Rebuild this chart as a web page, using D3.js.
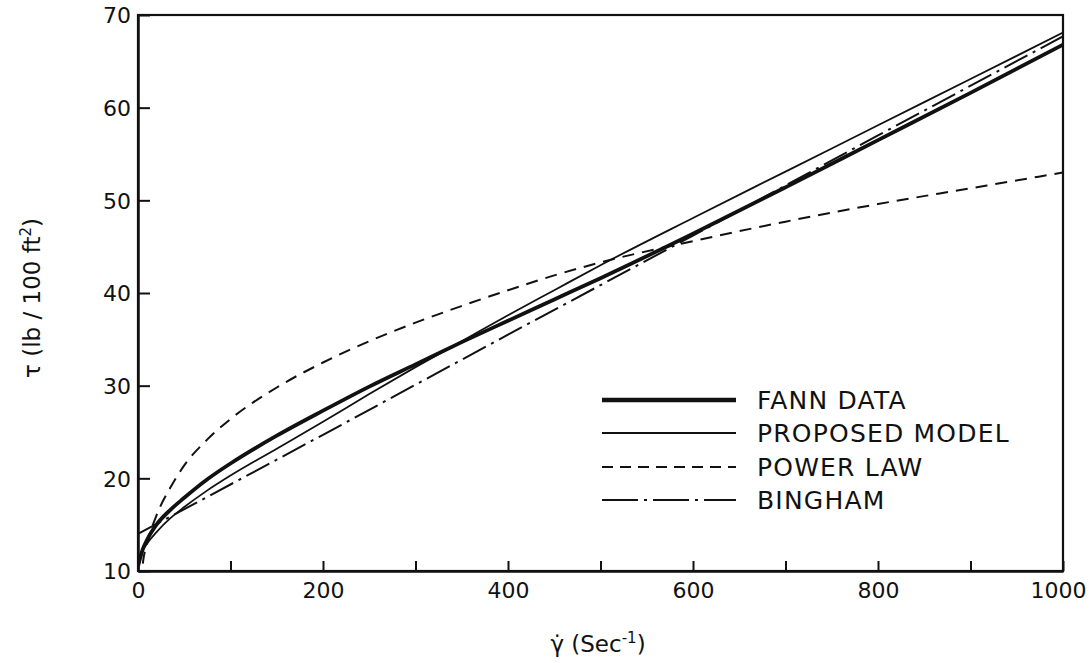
<!DOCTYPE html>
<html>
<head>
<meta charset="utf-8">
<script src="https://cdn.jsdelivr.net/npm/d3@7"></script>
<style>
  html, body { margin: 0; padding: 0; background: #fff; }
  svg { display: block; }
  text { font-family: "DejaVu Sans", sans-serif; fill: #111; }
</style>
</head>
<body>
<svg id="chart" width="1089" height="663"></svg>
<script>
// ---- data ----
const shearRate = [0, 5, 10, 20, 35, 50, 75, 100, 150, 200, 250, 300, 350, 400, 450, 500, 600, 700, 800, 900, 1000];
const fannData =      [10.5, 12.3, 13.4, 15.0, 16.6, 17.9, 19.9, 21.6, 24.6, 27.3, 29.9, 32.3, 34.7, 37.0, 39.3, 41.6, 46.4, 51.4, 56.5, 61.6, 66.8];
const proposedModel = [11.2, 12.2, 13.0, 14.2, 15.7, 16.9, 18.7, 20.3, 23.2, 26.1, 29.1, 32.0, 34.8, 37.6, 40.3, 43.0, 48.1, 53.1, 58.1, 63.1, 68.1];
const powerLaw =      [0.0, 10.6, 13.0, 16.0, 19.0, 21.4, 24.2, 26.4, 29.8, 32.5, 34.8, 36.8, 38.6, 40.3, 41.9, 43.3, 45.6, 47.7, 49.6, 51.3, 53.0];
const binghamRate = [0, 200, 400, 600, 800, 1000];
const bingham =     [14.0, 24.7, 35.5, 46.2, 57.0, 67.7];

const xTickValues = [0, 100, 200, 300, 400, 500, 600, 700, 800, 900, 1000];
const xTickLabels = [0, 200, 400, 600, 800, 1000];
const yTickValues = [10, 20, 30, 40, 50, 60, 70];

const legendLabels = ["FANN DATA", "PROPOSED MODEL", "POWER LAW", "BINGHAM"];

// ---- drawing ----
(function () {
const svg = d3.select("#chart");
const mLeft = 138, mRight = 1063, mTop = 15, mBottom = 571;

const x = d3.scaleLinear().domain([0, 1000]).range([mLeft, mRight]);
const y = d3.scaleLinear().domain([10, 70]).range([mBottom, mTop]);

svg.append("defs").append("clipPath").attr("id", "plotclip")
  .append("rect").attr("x", mLeft).attr("y", mTop).attr("width", mRight - mLeft).attr("height", mBottom - mTop);

const styles = [
  { w: 3.8, dash: null },
  { w: 1.8, dash: null },
  { w: 2.0, dash: "12,8" },
  { w: 2.0, dash: "26,6,3,6" }
];

const series = [
  shearRate.map((d, i) => [d, fannData[i]]),
  shearRate.map((d, i) => [d, proposedModel[i]]),
  shearRate.map((d, i) => [d, powerLaw[i]]),
  binghamRate.map((d, i) => [d, bingham[i]])
];

const line = d3.line().x(d => x(d[0])).y(d => y(d[1])).curve(d3.curveMonotoneX);

const plot = svg.append("g").attr("clip-path", "url(#plotclip)");
series.forEach((s, i) => {
  plot.append("path")
    .attr("d", line(s))
    .attr("fill", "none")
    .attr("stroke", "#111")
    .attr("stroke-width", styles[i].w)
    .attr("stroke-linecap", "butt")
    .attr("stroke-dasharray", styles[i].dash);
});

// frame
svg.append("rect").attr("x", mLeft).attr("y", mTop).attr("width", mRight - mLeft).attr("height", mBottom - mTop)
  .attr("fill", "none").attr("stroke", "#111").attr("stroke-width", 2.2);

// bottom axis (ticks inside)
const xAxis = d3.axisBottom(x).tickValues(xTickValues).tickSizeInner(-10).tickSizeOuter(0)
  .tickFormat(d => xTickLabels.includes(d) ? d : "");
const gx = svg.append("g").attr("transform", `translate(0,${mBottom})`).call(xAxis);
gx.select(".domain").attr("stroke", "#111").attr("stroke-width", 2.5);
gx.selectAll(".tick line").attr("stroke", "#111").attr("stroke-width", 2);
gx.selectAll(".tick text").attr("font-size", 22).attr("y", 11).attr("dy", "0.71em")
  .attr("dx", d => d === 1000 ? -5 : 0)
  .style("font-family", '"DejaVu Sans", sans-serif');

// left axis (ticks inside)
const yAxis = d3.axisLeft(y).tickValues(yTickValues).tickSizeInner(-12).tickSizeOuter(0);
const gy = svg.append("g").attr("transform", `translate(${mLeft},0)`).call(yAxis);
gy.select(".domain").attr("stroke", "#111").attr("stroke-width", 2.5);
gy.selectAll(".tick line").attr("stroke", "#111").attr("stroke-width", 2);
gy.selectAll(".tick text").attr("font-size", 22).attr("x", -7).attr("dy", "0.36em")
  .style("font-family", '"DejaVu Sans", sans-serif');

// axis titles
const yt = svg.append("text")
  .attr("transform", "translate(40,298) rotate(-90)")
  .attr("text-anchor", "middle")
  .attr("font-size", 23);
yt.append("tspan").text("τ (lb / 100 ft");
yt.append("tspan").attr("baseline-shift", "super").attr("font-size", 15).text("2");
yt.append("tspan").text(")");

const xt = svg.append("text")
  .attr("x", 598).attr("y", 652)
  .attr("text-anchor", "middle")
  .attr("font-size", 23);
xt.append("tspan").text("γ\u0307 (Sec");
xt.append("tspan").attr("baseline-shift", "super").attr("font-size", 15).text("-1");
xt.append("tspan").text(")");

// legend
const legendRows = [400, 433, 467, 500];
legendLabels.forEach((lab, i) => {
  svg.append("line")
    .attr("x1", 602).attr("x2", 736)
    .attr("y1", legendRows[i]).attr("y2", legendRows[i])
    .attr("stroke", "#111")
    .attr("stroke-width", i === 0 ? 4.5 : styles[i].w)
    .attr("stroke-dasharray", i === 2 ? "11,7" : (i === 3 ? "36,6,3,6" : null));
  svg.append("text")
    .attr("x", 757).attr("y", legendRows[i] + 9)
    .attr("font-size", 25)
    .attr("letter-spacing", 1.2)
    .text(lab);
});
})();
</script>
</body>
</html>
